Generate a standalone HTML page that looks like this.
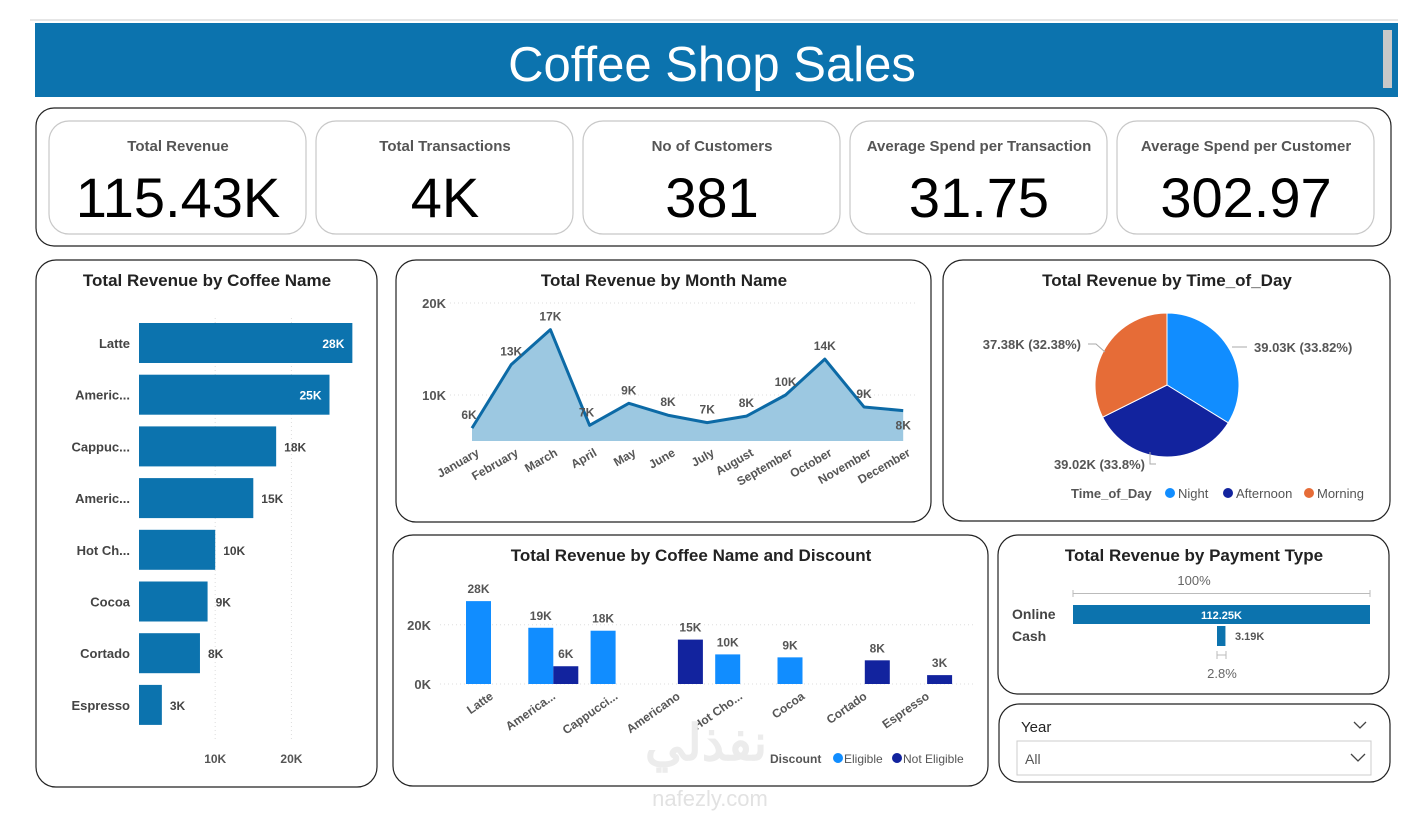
<!DOCTYPE html>
<html><head><meta charset="utf-8">
<style>
body{margin:0;background:#fff;width:1420px;height:813px;overflow:hidden;font-family:"Liberation Sans",sans-serif}
svg text{font-family:"Liberation Sans","Noto Sans CJK SC",sans-serif}
</style></head>
<body>
<svg width="1420" height="813" viewBox="0 0 1420 813" xmlns="http://www.w3.org/2000/svg">
<g>
<line x1="30" y1="20" x2="1398" y2="20" stroke="#ccc"/>
<rect x="35" y="23" width="1363" height="74" fill="#0c73ae"/>
<text x="712" y="81" text-anchor="middle" fill="#fff" font-size="49">Coffee Shop Sales</text>
<rect x="1383" y="30" width="9" height="58" fill="#c8c8c8"/>
</g>

<rect x="36" y="108" width="1355" height="138" rx="18" fill="#fff" stroke="#222" stroke-width="1.2"/>
<g id="kpis"></g>

<rect x="36" y="260" width="341" height="527" rx="20" fill="#fff" stroke="#222" stroke-width="1.2"/>
<text x="207" y="286" text-anchor="middle" font-size="17" font-weight="bold" fill="#222">Total Revenue by Coffee Name</text>
<g id="coffee"></g>

<rect x="396" y="260" width="535" height="262" rx="20" fill="#fff" stroke="#222" stroke-width="1.2"/>
<text x="664" y="286" text-anchor="middle" font-size="17" font-weight="bold" fill="#222">Total Revenue by Month Name</text>
<g id="month"></g>

<rect x="943" y="260" width="447" height="261" rx="20" fill="#fff" stroke="#222" stroke-width="1.2"/>
<text x="1167" y="286" text-anchor="middle" font-size="17" font-weight="bold" fill="#222">Total Revenue by Time_of_Day</text>
<g id="pie"></g>

<rect x="393" y="535" width="595" height="251" rx="20" fill="#fff" stroke="#222" stroke-width="1.2"/>
<text x="691" y="561" text-anchor="middle" font-size="17" font-weight="bold" fill="#222">Total Revenue by Coffee Name and Discount</text>
<g id="disc"></g>

<rect x="998" y="535" width="391" height="159" rx="20" fill="#fff" stroke="#222" stroke-width="1.2"/>
<text x="1194" y="561" text-anchor="middle" font-size="17" font-weight="bold" fill="#222">Total Revenue by Payment Type</text>
<g id="pay"></g>

<g>
<rect x="999" y="704" width="391" height="78" rx="20" fill="#fff" stroke="#222" stroke-width="1.2"/>
<text x="1021" y="732" font-size="15" fill="#222">Year</text>
<path d="M1354 722 l6 6 l6 -6" fill="none" stroke="#444" stroke-width="1.3"/>
<rect x="1017" y="741" width="354" height="34" fill="#fff" stroke="#ccc"/>
<text x="1025" y="764" font-size="14" fill="#555">All</text>
<path d="M1351 754 l7 7 l7 -7" fill="none" stroke="#444" stroke-width="1.3"/>
</g>

<g>
<text x="706" y="760" text-anchor="middle" font-size="50" font-weight="bold" fill="#ececec" font-family="DejaVu Sans">نفذلي</text>
<text x="710" y="806" text-anchor="middle" font-size="22" fill="#e2e2e2">nafezly.com</text>
</g>
</svg>
<script>
const NS='http://www.w3.org/2000/svg';
function mk(p,tag,at,txt){const e=document.createElementNS(NS,tag);for(const k in at)e.setAttribute(k,at[k]);if(txt!=null)e.textContent=txt;p.appendChild(e);return e;}

// KPIs
const kpiLabels=['Total Revenue','Total Transactions','No of Customers','Average Spend per Transaction','Average Spend per Customer'];
const kpiValues=['115.43K','4K','381','31.75','302.97'];
const kg=document.getElementById('kpis');
kpiLabels.forEach((l,i)=>{
  const x=49+i*267;
  const g=mk(kg,'g',{});
  
  
  mk(g,'rect',{x:x,y:121,width:257,height:113,rx:20,fill:'#fff',stroke:'#c8c8c8','stroke-width':1.2});
  mk(g,'text',{x:x+129,y:151,'text-anchor':'middle','font-size':15,'font-weight':'bold',fill:'#555'},l);
  mk(g,'text',{x:x+129,y:217,'text-anchor':'middle','font-size':56,fill:'#000'},kpiValues[i]);
});

// Coffee horizontal bar
const coffeeNames=['Latte','Americ...','Cappuc...','Americ...','Hot Ch...','Cocoa','Cortado','Espresso'];
const coffeeValues=[28,25,18,15,10,9,8,3];
const coffeeTicks=[10,20];
const cg=document.getElementById('coffee');
const cx=v=>139+v*7.62, cy=i=>323+i*51.7;
coffeeTicks.forEach(t=>{
  const l=mk(cg,'line',{x1:cx(t),y1:318,x2:cx(t),y2:740,stroke:'#ddd','stroke-dasharray':'1 3'});
  
  mk(cg,'text',{x:cx(t),y:763,'text-anchor':'middle','font-size':12,'font-weight':'bold',fill:'#555'},t+'K');
});
coffeeValues.forEach((v,i)=>{
  const r=mk(cg,'rect',{x:cx(0),y:cy(i),width:cx(v)-cx(0),height:40,fill:'#0c73ae'});
  
  
  mk(cg,'text',{x:130,y:cy(i)+25,'text-anchor':'end','font-size':13,'font-weight':'bold',fill:'#444'},coffeeNames[i]);
  const inside=v>=20;
  mk(cg,'text',{x:inside?cx(v)-8:cx(v)+8,y:cy(i)+25,'text-anchor':inside?'end':'start','font-size':12,'font-weight':'bold',fill:inside?'#fff':'#444'},v+'K');
});

// Month area chart
const months=['January','February','March','April','May','June','July','August','September','October','November','December'];
const monthValues=[6.4,13.3,17.1,6.7,9.1,7.8,7.0,7.7,10.0,13.9,8.7,8.3];
const monthLabels=['6K','13K','17K','7K','9K','8K','7K','8K','10K','14K','9K','8K'];
const monthTicks=[10,20];
const mg=document.getElementById('month');
const mx=i=>472+i*39.2, my=v=>487-v*9.2, mBase=5;
monthTicks.forEach(t=>{
  const l=mk(mg,'line',{x1:450,y1:my(t),x2:915,y2:my(t),stroke:'#ddd','stroke-dasharray':'1 3'});
  
  mk(mg,'text',{x:446,y:my(t)+5,'text-anchor':'end','font-size':13,'font-weight':'bold',fill:'#555'},t+'K');
});
let ad='M'+mx(0)+' '+my(mBase), ld='';
monthValues.forEach((v,i)=>{ad+=' L'+mx(i)+' '+my(v);ld+=(i?' L':'M')+mx(i)+' '+my(v);});
ad+=' L'+mx(11)+' '+my(mBase)+' Z';
const ar=mk(mg,'path',{d:ad,fill:'#9cc8e1'});
const ln=mk(mg,'path',{d:ld,fill:'none',stroke:'#0c6aa6','stroke-width':3,'stroke-linejoin':'round'});
monthValues.forEach((v,i)=>{
  const last=i===11;
  const t=mk(mg,'text',{x:mx(i)+(i===0||i===3?-3:0),y:last?my(v)+19:my(v)-9,'text-anchor':'middle','font-size':12,'font-weight':'bold',fill:'#555'},monthLabels[i]);
  
  mk(mg,'text',{x:mx(i)+8,y:455,'text-anchor':'end','font-size':12,'font-weight':'bold',fill:'#555',transform:'rotate(-30 '+(mx(i)+8)+' 455)'},months[i]);
});

// Pie
const pieNames=['Night','Afternoon','Morning'];
const pieValues=[39.03,39.02,37.38];
const pieLabels=['39.03K (33.82%)','39.02K (33.8%)','37.38K (32.38%)'];
const pieColors=['#118dff','#12239e','#e66c37'];
const pg=document.getElementById('pie');
const PCX=1167,PCY=385,R=72;
const tot=pieValues.reduce((a,b)=>a+b,0);
let a0=-Math.PI/2;
pieValues.forEach((v,i)=>{
  const a1=a0+v/tot*2*Math.PI;
  const p=(a)=>[PCX+R*Math.cos(a),PCY+R*Math.sin(a)];
  const s=p(a0),e=p(a1);
  const sl=mk(pg,'path',{d:`M${PCX} ${PCY} L${s[0]} ${s[1]} A${R} ${R} 0 ${a1-a0>Math.PI?1:0} 1 ${e[0]} ${e[1]} Z`,fill:pieColors[i],stroke:'#fff','stroke-width':1});
  
  
  a0=a1;
});
mk(pg,'path',{d:'M1232 347 L1240 347 L1247 347',fill:'none',stroke:'#aaa'});
mk(pg,'text',{x:1254,y:352,'font-size':13,'font-weight':'bold',fill:'#555'},pieLabels[0]);
mk(pg,'path',{d:'M1150 452 L1150 464 L1156 464',fill:'none',stroke:'#aaa'});
mk(pg,'text',{x:1145,y:469,'text-anchor':'end','font-size':13,'font-weight':'bold',fill:'#555'},pieLabels[1]);
mk(pg,'path',{d:'M1088 344 L1096 344 L1105 352',fill:'none',stroke:'#aaa'});
mk(pg,'text',{x:1081,y:349,'text-anchor':'end','font-size':13,'font-weight':'bold',fill:'#555'},pieLabels[2]);
const lg=mk(pg,'g',{});
mk(lg,'text',{x:1071,y:498,'font-size':13,'font-weight':'bold',fill:'#555'},'Time_of_Day');
[[1170,'Night'],[1228,'Afternoon'],[1309,'Morning']].forEach((o,i)=>{
  mk(lg,'circle',{cx:o[0],cy:493,r:5,fill:pieColors[i]});
  mk(lg,'text',{x:o[0]+8,y:498,'font-size':13,fill:'#555'},o[1]);
});

// Discount clustered bars
const discCats=['Latte','America...','Cappucci...','Americano','Hot Cho...','Cocoa','Cortado','Espresso'];
const eligible=[28,19,18,0,10,9,0,0];
const notEligible=[0,6,0,15,0,0,8,3];
const discTicks=[0,20];
const dg=document.getElementById('disc');
const dx=i=>466+i*62.3, dy=v=>684-v*2.96, BW=25;
discTicks.forEach(t=>{
  const l=mk(dg,'line',{x1:440,y1:dy(t),x2:975,y2:dy(t),stroke:'#ddd','stroke-dasharray':'1 3'});
  
  mk(dg,'text',{x:431,y:dy(t)+5,'text-anchor':'end','font-size':13,'font-weight':'bold',fill:'#555'},t+'K');
});
discCats.forEach((c,i)=>{
  [[eligible[i],0,'#118dff','eligible-bar'],[notEligible[i],BW,'#12239e','not-eligible-bar']].forEach(o=>{
    if(!o[0])return;
    const r=mk(dg,'rect',{x:dx(i)+o[1],y:dy(o[0]),width:BW,height:dy(0)-dy(o[0]),fill:o[2]});
    
    
    mk(dg,'text',{x:dx(i)+o[1]+BW/2,y:dy(o[0])-8,'text-anchor':'middle','font-size':12,'font-weight':'bold',fill:'#555'},o[0]+'K');
  });
  const lx=dx(i)+BW+3;
  mk(dg,'text',{x:lx,y:698,'text-anchor':'end','font-size':12,'font-weight':'bold',fill:'#555',transform:'rotate(-35 '+lx+' 698)'},c);
});
const dl=mk(dg,'g',{});
mk(dl,'text',{x:770,y:763,'font-size':12,'font-weight':'bold',fill:'#555'},'Discount');
mk(dl,'circle',{cx:838,cy:758,r:5,fill:'#118dff'});mk(dl,'text',{x:844,y:763,'font-size':12,fill:'#555'},'Eligible');
mk(dl,'circle',{cx:897,cy:758,r:5,fill:'#12239e'});mk(dl,'text',{x:903,y:763,'font-size':12,fill:'#555'},'Not Eligible');

// Payment
const payTypes=['Online','Cash'];
const payValues=[112.25];
const cashValue=[3.19];
const payLabels=['112.25K','3.19K'];
const yg=document.getElementById('pay');
const pw=v=>v/112.25*297;
mk(yg,'text',{x:1194,y:585,'text-anchor':'middle','font-size':13,fill:'#666'},'100%');
mk(yg,'path',{d:'M1073 590 L1073 597 M1073 593.5 L1370 593.5 M1370 590 L1370 597',stroke:'#bbb',fill:'none'});
const ob=mk(yg,'rect',{x:1073,y:605,width:pw(payValues[0]),height:19,fill:'#0c73ae'});

mk(yg,'text',{x:1073+pw(payValues[0])/2,y:619,'text-anchor':'middle','font-size':11,'font-weight':'bold',fill:'#fff'},payLabels[0]);
const cb=mk(yg,'rect',{x:1217,y:626,width:pw(cashValue[0]),height:20,fill:'#0c73ae'});

mk(yg,'text',{x:1235,y:640,'font-size':11,'font-weight':'bold',fill:'#555'},payLabels[1]);
mk(yg,'text',{x:1012,y:619,'font-size':14,'font-weight':'bold',fill:'#444'},payTypes[0]);
mk(yg,'text',{x:1012,y:641,'font-size':14,'font-weight':'bold',fill:'#444'},payTypes[1]);
mk(yg,'path',{d:'M1217 651 L1217 659 M1217 655 L1226 655 M1226 651 L1226 659',stroke:'#bbb',fill:'none'});
mk(yg,'text',{x:1222,y:678,'text-anchor':'middle','font-size':13,fill:'#666'},'2.8%');
</script>
</body></html>
